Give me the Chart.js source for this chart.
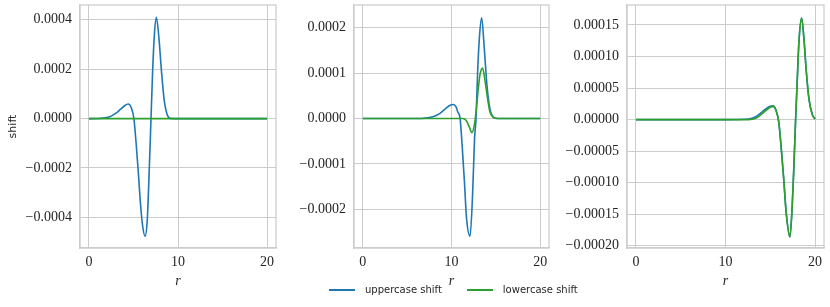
<!DOCTYPE html>
<html>
<head>
<meta charset="utf-8">
<script src="https://cdn.jsdelivr.net/npm/chart.js@4/dist/chart.umd.min.js"></script>
<style>
  body { margin: 0; background: #fff; width: 830px; height: 307px; position: relative; overflow: hidden; }
  .panel { position: absolute; top: 0; }
  #legend { position: absolute; top: 284px; left: 329px; font-family: "DejaVu Sans", sans-serif; font-size: 10px; color: #262626; display: flex; align-items: center; }
  .item { display: flex; align-items: center; margin-right: 25px; }
  .swatch { width: 26px; height: 2px; margin-right: 10px; }
</style>
</head>
<body>
<div class="panel" style="left:0px"><canvas id="p1" width="280" height="290"></canvas></div>
<div class="panel" style="left:280px"><canvas id="p2" width="273" height="290"></canvas></div>
<div class="panel" style="left:560px"><canvas id="p3" width="268" height="290"></canvas></div>
<div id="legend">
  <div class="item"><span class="swatch" style="background:#1f77b4"></span>uppercase shift</div>
  <div class="item"><span class="swatch" style="background:#2ca02c"></span>lowercase shift</div>
</div>
<script>
// Panel 1
let r1 = [0, 1, 2, 2.5, 3, 3.5, 4, 4.4, 4.8, 5.05, 5.3, 5.55, 5.8, 6.05, 6.3, 6.55, 6.8, 6.97, 7.15, 7.35, 7.57, 7.85, 8.15, 8.45, 8.8, 9.2, 10, 15, 20];
let upper1 = [0, 0.0000005, 0.000004, 0.00001, 0.000021, 0.000036, 0.000052, 0.000059, 0.00004, 0,
    -0.0001, -0.00022, -0.00035, -0.00044, -0.000476, -0.00041, -0.00018, 0,
    0.00019, 0.00034, 0.00041, 0.00033, 0.00019, 0.000075, 0.000015, 0.000001, 0, 0, 0];
let r1Lower = [0, 10, 20];
let lower1 = [0, 0, 0];
let yTicks1 = [-0.0004, -0.0002, 0, 0.0002, 0.0004];

// Panel 2
let r2 = [0, 6, 7.9, 8.66, 9.4, 9.9, 10.22, 10.5, 10.7, 10.97, 11.2, 11.46, 11.7, 12.09, 12.39, 12.6, 12.77, 12.95, 13.14, 13.4, 13.7, 14.0, 14.33, 14.8, 15.5, 20];
let upper2 = [0, 0, 0.000004, 0.000011, 0.000023, 0.00003, 0.000031, 0.000026, 0.000015, 0,
    -0.000059, -0.00014, -0.00022, -0.000259, -0.000162, -0.000044, 0,
    0.000103, 0.000176, 0.000222, 0.000154, 0.000073, 0.000022, 0.000002, 0, 0];
let r2Lower = [0, 10, 11.27, 11.64, 12.0, 12.3, 12.57, 12.77, 12.99, 13.2, 13.5, 13.8, 14.07, 14.33, 14.7, 15.3, 20];
let lower2 = [0, 0, 0, -0.000004, -0.000018, -0.000031, -0.000015, 0.000015, 0.000059, 0.000095,
    0.000111, 0.000081, 0.000044, 0.000015, 0.000003, 0, 0];
let yTicks2 = [-0.0002, -0.0001, 0, 0.0001, 0.0002];

// Panel 3
let r3 = [0, 10, 12.57, 13.32, 14.07, 14.82, 15.31, 15.65, 15.95, 16.2, 16.5, 16.78, 17.19, 17.45, 17.64, 17.83, 18.02, 18.2, 18.5, 18.76, 19.03, 19.32, 19.7, 20];
let upper3 = [0, 0, 0.000001, 0.000004, 0.000012, 0.00002, 0.000022, 0.000015, -0.000004, -0.000041,
    -0.000094, -0.000148, -0.000186, -0.000137, -0.000073, 0, 0.000065, 0.000123, 0.000161, 0.000128,
    0.000075, 0.000033, 0.0000075, 0.000001];
let lower3 = [0, 0, 0, 0.0000016, 0.000009, 0.000018, 0.000021, 0.000014, -0.000004, -0.000041,
    -0.000094, -0.000148, -0.000186, -0.000137, -0.000073, 0, 0.000065, 0.000123, 0.000161, 0.000128,
    0.000075, 0.000033, 0.0000075, 0.000001];
let yTicks3 = [-0.0002, -0.00015, -0.0001, -0.00005, 0, 0.00005, 0.0001, 0.00015];

let xTicks = [0, 10, 20];
let seriesNames = ["uppercase shift", "lowercase shift"];
let seriesColours = ["#1f77b4", "#2ca02c"];

const tickFont = { family: "'Liberation Serif', serif", size: 14 };
const textColour = "#262626";
const gridColour = "#cccccc";

function pts(xs, ys) {
    return xs.map((x, i) => ({ x: x, y: ys[i] }));
}

// Light grey frame round the plot area (seaborn whitegrid)
const frame = {
    id: "frame",
    beforeDatasetsDraw(chart) {
        const a = chart.chartArea;
        const ctx = chart.ctx;
        ctx.save();
        ctx.strokeStyle = gridColour;
        ctx.lineWidth = 1.25;
        ctx.strokeRect(a.left, a.top, a.right - a.left, a.bottom - a.top);
        ctx.restore();
    }
};

function makePanel(id, rU, yU, rL, yL, yMin, yMax, yTicks, dec, axisW, yTitle) {
    new Chart(document.getElementById(id), {
        type: "line",
        data: {
            datasets: [
                {
                    label: seriesNames[0],
                    data: pts(rU, yU),
                    borderColor: seriesColours[0],
                    order: 2
                },
                {
                    label: seriesNames[1],
                    data: pts(rL, yL),
                    borderColor: seriesColours[1],
                    order: 1
                }
            ]
        },
        options: {
            responsive: false,
            animation: false,
            devicePixelRatio: 1,
            layout: { padding: { top: 5, right: 4, left: 0, bottom: 0 } },
            elements: {
                point: { radius: 0 },
                line: { borderWidth: 1.6, cubicInterpolationMode: "monotone", fill: false }
            },
            plugins: { legend: { display: false }, tooltip: { enabled: false } },
            scales: {
                x: {
                    type: "linear",
                    min: -1,
                    max: 21,
                    afterBuildTicks(scale) {
                        scale.ticks = xTicks.map(v => ({ value: v }));
                    },
                    afterFit(scale) {
                        scale.height = 42;
                        scale.paddingLeft = 0;
                        scale.paddingRight = 0;
                    },
                    ticks: { font: tickFont, color: textColour, padding: 6, autoSkip: false, maxRotation: 0 },
                    grid: { color: gridColour, drawTicks: false },
                    border: { color: gridColour, width: 1.25 },
                    title: {
                        display: true,
                        text: "r",
                        color: textColour,
                        font: { family: "'Liberation Serif', serif", size: 14, style: "italic" },
                        padding: { top: 0, bottom: 0 }
                    }
                },
                y: {
                    min: yMin,
                    max: yMax,
                    afterBuildTicks(scale) {
                        scale.ticks = yTicks.map(v => ({ value: v }));
                    },
                    ticks: {
                        font: tickFont,
                        color: textColour,
                        padding: 8,
                        autoSkip: false,
                        callback: v => (v < -1e-12 ? "\u2212" : "") + Math.abs(v).toFixed(dec)
                    },
                    afterFit(scale) {
                        scale.width = axisW;
                        scale.paddingTop = 0;
                        scale.paddingBottom = 0;
                    },
                    grid: { color: gridColour, drawTicks: false },
                    border: { color: gridColour, width: 1.25 },
                    title: {
                        display: yTitle,
                        text: "shift",
                        color: textColour,
                        font: { family: "'DejaVu Sans', sans-serif", size: 11 },
                        padding: { top: 7, bottom: 0 }
                    }
                }
            }
        },
        plugins: [frame]
    });
}

makePanel("p1", r1, upper1, r1Lower, lower1, -0.000524, 0.00046, yTicks1, 4, 80, true);
makePanel("p2", r2, upper2, r2Lower, lower2, -0.000285, 0.00025, yTicks2, 4, 74, false);
makePanel("p3", r3, upper3, r3, lower3, -0.0002036, 0.0001817, yTicks3, 5, 67, false);
</script>
</body>
</html>
